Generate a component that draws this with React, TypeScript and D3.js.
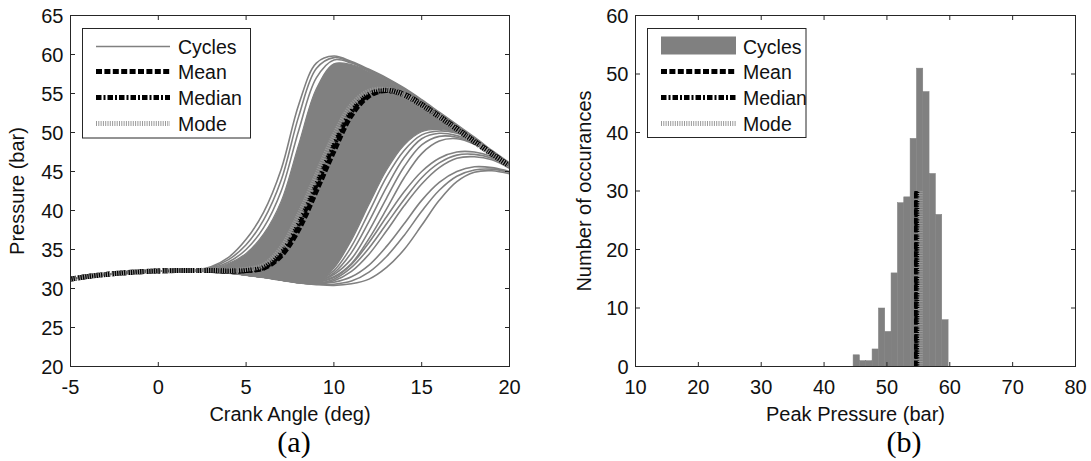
import React from "react";
import * as d3 from "d3";

// ---- Data: in-cylinder pressure traces (bar) -------------------------------
const crankAngle = [-5, -4, -3, -2, -1, 0, 1, 2, 3, 4, 5, 6, 7, 8, 9, 10, 11, 12, 13, 14, 15, 16, 17, 18, 19, 20];

// Compression stroke, shared by every cycle (-5 .. 2 deg)
const compressionStroke = [31.2, 31.55, 31.8, 32.0, 32.15, 32.25, 32.3, 32.3];

// Individual cycles, 3 .. 20 deg
const earliestCycles = [
  [32.8, 34.0, 36.3, 39.8, 45.3, 53.6, 58.9, 59.8, 59.1, 58.1, 57.0, 55.7, 54.2, 52.6, 51.0, 49.4, 47.7, 46.1],
  [32.7, 33.7, 35.6, 38.8, 43.9, 52.1, 58.2, 59.6, 59.0, 58.0, 56.9, 55.6, 54.1, 52.5, 50.9, 49.3, 47.6, 46.0],
  [32.6, 33.4, 35.0, 37.8, 42.5, 50.3, 57.0, 59.3, 58.9, 57.9, 56.8, 55.5, 54.0, 52.4, 50.8, 49.2, 47.5, 46.0],
];

// Bulk of the cycles: envelope of the overlapping traces, 3 .. 20 deg
const bulkUpper = [32.5, 33.2, 34.5, 37.0, 41.2, 48.5, 55.6, 58.8, 58.7, 57.8, 56.7, 55.4, 53.9, 52.3, 50.7, 49.1, 47.5, 45.9];
const bulkLower = [32.15, 32.0, 31.75, 31.45, 31.1, 30.8, 30.7, 32.6, 36.2, 40.8, 45.2, 48.4, 50.1, 50.4, 50.0, 49.0, 47.6, 46.0];

const lateCycles = [
  [32.2, 32.05, 31.8, 31.5, 31.2, 30.9, 31.0, 32.3, 35.4, 39.8, 44.3, 47.7, 49.7, 50.2, 49.9, 48.9, 47.5, 45.9],
  [32.2, 32.05, 31.8, 31.5, 31.2, 30.9, 30.9, 32.0, 34.6, 38.6, 43.0, 46.8, 49.2, 49.9, 49.6, 48.8, 47.4, 45.9],
  [32.2, 32.0, 31.8, 31.5, 31.15, 30.85, 30.9, 31.8, 33.8, 37.4, 41.6, 45.6, 48.4, 49.5, 49.4, 48.6, 47.3, 45.8],
  [32.2, 32.0, 31.75, 31.5, 31.15, 30.85, 30.8, 31.5, 33.2, 36.4, 40.2, 44.2, 47.3, 48.9, 49.2, 48.5, 47.2, 45.7],
  [32.15, 32.0, 31.75, 31.45, 31.1, 30.8, 30.8, 31.4, 33.1, 35.9, 39.2, 42.4, 45.0, 46.7, 47.5, 47.5, 46.9, 45.7],
  [32.15, 32.0, 31.75, 31.45, 31.1, 30.8, 30.7, 31.2, 32.7, 35.2, 38.3, 41.4, 44.2, 46.1, 47.1, 47.2, 46.7, 45.6],
  [32.15, 32.0, 31.75, 31.45, 31.1, 30.75, 30.65, 31.0, 32.2, 34.4, 37.4, 40.6, 43.4, 45.5, 46.7, 46.9, 46.5, 45.4],
  [32.15, 32.0, 31.75, 31.45, 31.1, 30.75, 30.6, 30.8, 31.5, 33.0, 35.4, 38.3, 41.3, 43.6, 45.0, 45.6, 45.5, 45.0],
  [32.15, 32.0, 31.75, 31.45, 31.1, 30.75, 30.55, 30.55, 30.95, 32.1, 34.1, 36.8, 39.9, 42.6, 44.4, 45.2, 45.3, 44.9],
  [32.1, 31.95, 31.7, 31.4, 31.05, 30.7, 30.5, 30.4, 30.6, 31.2, 32.7, 35.0, 38.1, 41.3, 43.7, 44.9, 45.1, 44.7],
];

// Statistical traces over the full range (-5 .. 20 deg)
const meanPressure = [31.2, 31.55, 31.8, 32.0, 32.15, 32.25, 32.3, 32.3, 32.3, 32.25, 32.3, 32.6, 34.2, 37.6, 42.5, 47.6, 52.2, 54.7, 55.4, 54.9, 53.6, 52.1, 50.5, 48.9, 47.3, 45.7];
const medianPressure = [31.2, 31.55, 31.8, 32.0, 32.15, 32.25, 32.3, 32.3, 32.3, 32.25, 32.3, 32.7, 34.5, 38.3, 43.3, 48.4, 52.7, 54.9, 55.4, 54.8, 53.5, 52.0, 50.4, 48.8, 47.2, 45.7];
const modePressure = [31.2, 31.55, 31.8, 32.0, 32.15, 32.25, 32.3, 32.3, 32.35, 32.3, 32.45, 33.0, 35.2, 39.4, 44.5, 49.6, 53.5, 55.3, 55.5, 54.8, 53.5, 52.0, 50.4, 48.8, 47.2, 45.7];

// ---- Data: peak pressure histogram ----------------------------------------
const peakBinCenters = [45.12, 46.13, 47.13, 48.14, 49.15, 50.16, 51.16, 52.17, 53.18, 54.19, 55.2, 56.2, 57.21, 58.22, 59.23];
const peakBinWidth = 1.007;
const peakCounts = [2, 1, 1, 3, 10, 6, 16, 28, 29, 39, 51, 47, 33, 26, 8];
const peakMean = 54.7;
const peakMedian = 54.75;
const peakMode = 55.3;
const statLineCount = 30;

// ---- Axes -----------------------------------------------------------------
const crankTicks = [-5, 0, 5, 10, 15, 20];
const pressureTicks = [20, 25, 30, 35, 40, 45, 50, 55, 60, 65];
const peakTicks = [10, 20, 30, 40, 50, 60, 70, 80];
const countTicks = [0, 10, 20, 30, 40, 50, 60];
const legendLabels = ["Cycles", "Mean", "Median", "Mode"];

// ---- Styling --------------------------------------------------------------
const W = 1091;
const H = 461;
const GRAY = "#808080";
const AXIS = "#262626";
const SANS = "'Liberation Sans', Arial, Helvetica, sans-serif";
const SERIF = "'Liberation Serif', 'Times New Roman', serif";
const TICK_LEN = 4.5;
const TICK_FONT = 20;
const STAT_STYLES = [
  { stroke: "#000", dash: "6 2.4", width: 5 },
  { stroke: "#000", dash: "5.5 2 2 2", width: 5 },
  { stroke: "#9a9a9a", dash: "1 1.3", width: 5 },
];

const leftBox = { left: 70.5, right: 509.5, top: 15.5, bottom: 366.5 };
const rightBox = { left: 635.5, right: 1075.5, top: 15.5, bottom: 366.5 };

type Scale = d3.ScaleLinear<number, number>;

function Frame({ x, y, xTicks, yTicks }: { x: Scale; y: Scale; xTicks: number[]; yTicks: number[] }) {
  const [x0, x1] = x.range();
  const [y0, y1] = y.range();
  return (
    <g>
      <rect x={x0} y={y1} width={x1 - x0} height={y0 - y1} fill="none" stroke={AXIS} strokeWidth={1} />
      {xTicks.map((t) => (
        <g key={"x" + t}>
          <line x1={x(t)} x2={x(t)} y1={y0} y2={y0 - TICK_LEN} stroke={AXIS} />
          <line x1={x(t)} x2={x(t)} y1={y1} y2={y1 + TICK_LEN} stroke={AXIS} />
          <text x={x(t)} y={y0 + 27} textAnchor="middle" fontSize={TICK_FONT} fontFamily={SANS} fill="#111">
            {t}
          </text>
        </g>
      ))}
      {yTicks.map((t) => (
        <g key={"y" + t}>
          <line x1={x0} x2={x0 + TICK_LEN} y1={y(t)} y2={y(t)} stroke={AXIS} />
          <line x1={x1} x2={x1 - TICK_LEN} y1={y(t)} y2={y(t)} stroke={AXIS} />
          <text x={x0 - 7} y={y(t) + 7} textAnchor="end" fontSize={TICK_FONT} fontFamily={SANS} fill="#111">
            {t}
          </text>
        </g>
      ))}
    </g>
  );
}

function Legend({
  x,
  y,
  w,
  h,
  sampleX0,
  sampleX1,
  textX,
  cyclesAsPatch,
}: {
  x: number;
  y: number;
  w: number;
  h: number;
  sampleX0: number;
  sampleX1: number;
  textX: number;
  cyclesAsPatch: boolean;
}) {
  const rows = [18, 43, 69, 95];
  return (
    <g>
      <rect x={x} y={y} width={w} height={h} fill="#fff" stroke={AXIS} strokeWidth={1} />
      {legendLabels.map((label, i) => {
        const cy = y + rows[i];
        let sample;
        if (i === 0) {
          sample = cyclesAsPatch ? (
            <rect x={sampleX0} y={cy - 10} width={sampleX1 - sampleX0} height={18} fill={GRAY} />
          ) : (
            <line x1={sampleX0} x2={sampleX1} y1={cy} y2={cy} stroke={GRAY} strokeWidth={1.6} />
          );
        } else {
          const s = STAT_STYLES[i - 1];
          sample = (
            <line x1={sampleX0} x2={sampleX1} y1={cy} y2={cy} stroke={s.stroke} strokeWidth={s.width} strokeDasharray={s.dash} />
          );
        }
        return (
          <g key={label}>
            {sample}
            <text x={textX} y={cy + 7} fontSize={19.5} fontFamily={SANS} fill="#111">
              {label}
            </text>
          </g>
        );
      })}
    </g>
  );
}

function PressurePanel() {
  const x = d3.scaleLinear().domain([-5, 20]).range([leftBox.left, leftBox.right]);
  const y = d3.scaleLinear().domain([20, 65]).range([leftBox.bottom, leftBox.top]);
  const line = d3
    .line<number>()
    .x((_, i) => x(crankAngle[i]))
    .y((d) => y(d))
    .curve(d3.curveCatmullRom.alpha(0.5));
  const upper = compressionStroke.concat(bulkUpper);
  const lower = compressionStroke.concat(bulkLower);
  const area = d3
    .area<number>()
    .x((_, i) => x(crankAngle[i]))
    .y0((_, i) => y(lower[i]))
    .y1((_, i) => y(upper[i]))
    .curve(d3.curveCatmullRom.alpha(0.5));
  const cycles = earliestCycles.concat(lateCycles).map((c) => compressionStroke.concat(c));
  const stats = [meanPressure, medianPressure, modePressure];

  return (
    <g>
      <defs>
        <clipPath id="clip-pressure">
          <rect x={leftBox.left} y={leftBox.top} width={leftBox.right - leftBox.left} height={leftBox.bottom - leftBox.top} />
        </clipPath>
      </defs>
      <g clipPath="url(#clip-pressure)">
        <path d={area(upper) || ""} fill={GRAY} stroke={GRAY} strokeWidth={1.2} />
        {cycles.map((c, i) => (
          <path key={i} d={line(c) || ""} fill="none" stroke={GRAY} strokeWidth={1.6} />
        ))}
        {stats.map((s, i) => (
          <path
            key={"s" + i}
            d={line(s) || ""}
            fill="none"
            stroke={STAT_STYLES[i].stroke}
            strokeWidth={STAT_STYLES[i].width}
            strokeDasharray={STAT_STYLES[i].dash}
          />
        ))}
      </g>
      <Frame x={x} y={y} xTicks={crankTicks} yTicks={pressureTicks} />
      <Legend x={82.5} y={28.5} w={168} h={109.5} sampleX0={96} sampleX1={170} textX={178} cyclesAsPatch={false} />
      <text x={(leftBox.left + leftBox.right) / 2} y={421} textAnchor="middle" fontSize={20} fontFamily={SANS} fill="#111">
        Crank Angle (deg)
      </text>
      <text
        transform={`translate(24,${(leftBox.top + leftBox.bottom) / 2}) rotate(-90)`}
        textAnchor="middle"
        fontSize={20}
        fontFamily={SANS}
        fill="#111"
      >
        Pressure (bar)
      </text>
      <text x={294} y={452} textAnchor="middle" fontSize={30} fontFamily={SERIF} fill="#000">
        (a)
      </text>
    </g>
  );
}

function HistogramPanel() {
  const x = d3.scaleLinear().domain([10, 80]).range([rightBox.left, rightBox.right]);
  const y = d3.scaleLinear().domain([0, 60]).range([rightBox.bottom, rightBox.top]);
  const statValues = [peakMean, peakMedian, peakMode];
  return (
    <g>
      {peakBinCenters.map((c, i) => {
        const xa = x(c - peakBinWidth / 2);
        const xb = x(c + peakBinWidth / 2);
        return (
          <rect
            key={i}
            x={xa}
            y={y(peakCounts[i])}
            width={xb - xa}
            height={y(0) - y(peakCounts[i])}
            fill={GRAY}
            stroke={GRAY}
            strokeWidth={0.5}
          />
        );
      })}
      {statValues.map((v, i) => (
        <line
          key={i}
          x1={x(v)}
          x2={x(v)}
          y1={y(0)}
          y2={y(statLineCount)}
          stroke={STAT_STYLES[i].stroke}
          strokeWidth={STAT_STYLES[i].width}
          strokeDasharray={STAT_STYLES[i].dash}
        />
      ))}
      <Frame x={x} y={y} xTicks={peakTicks} yTicks={countTicks} />
      <Legend x={647.5} y={28.5} w={158.5} h={109} sampleX0={661} sampleX1={736} textX={743} cyclesAsPatch={true} />
      <text x={(rightBox.left + rightBox.right) / 2} y={421} textAnchor="middle" fontSize={20} fontFamily={SANS} fill="#111">
        Peak Pressure (bar)
      </text>
      <text
        transform={`translate(591,${(rightBox.top + rightBox.bottom) / 2}) rotate(-90)`}
        textAnchor="middle"
        fontSize={20}
        fontFamily={SANS}
        fill="#111"
      >
        Number of occurances
      </text>
      <text x={904} y={452} textAnchor="middle" fontSize={30} fontFamily={SERIF} fill="#000">
        (b)
      </text>
    </g>
  );
}

export default function App() {
  return (
    <svg
      width={W}
      height={H}
      viewBox={`0 0 ${W} ${H}`}
      style={{ position: "absolute", left: 0, top: 0, background: "#fff" }}
    >
      <rect width={W} height={H} fill="#fff" />
      <PressurePanel />
      <HistogramPanel />
    </svg>
  );
}
